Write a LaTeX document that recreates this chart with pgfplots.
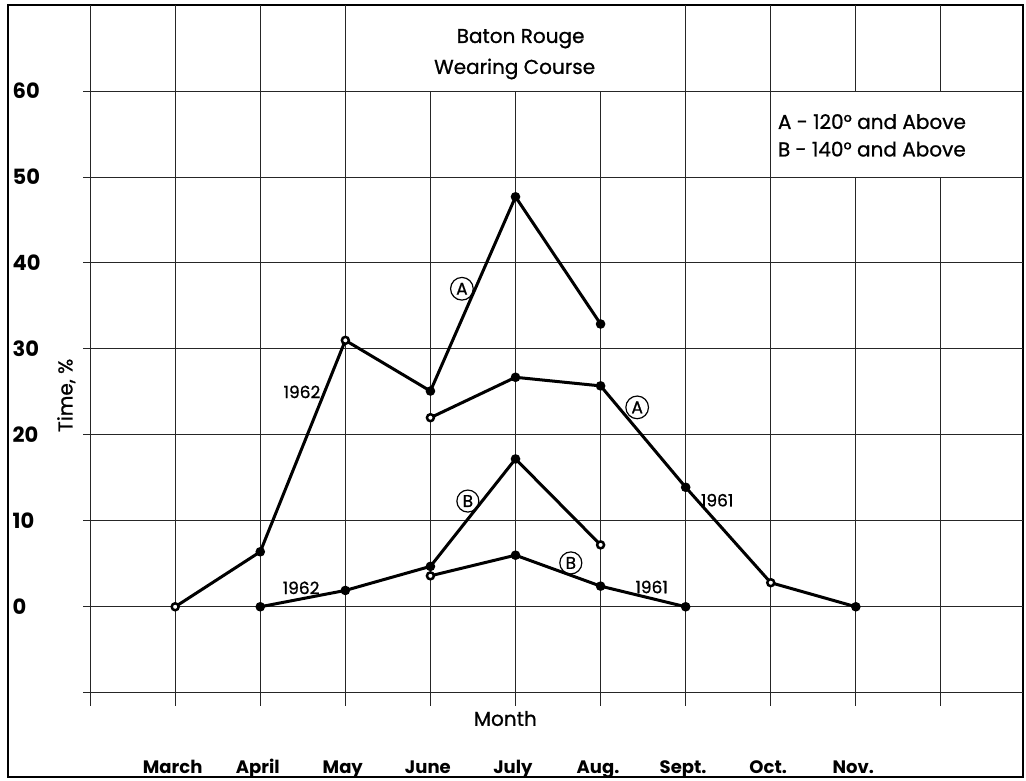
\documentclass[border=0pt]{standalone}
\usepackage{pgfplots}
\pgfplotsset{compat=1.18}
\usepackage{fontspec}
\setmainfont{Poppins}
\newfontfamily\med{Poppins}[FakeBold=0.9]

% month index: March=1 ... Nov=9
\pgfplotstableread{
x y
1 0
2 6.4
3 31.0
4 25.1
5 47.7
6 32.9
}\Aseventytwo
\pgfplotstableread{
x y
4 22.0
5 26.7
6 25.7
7 13.9
8 2.8
9 0
}\Asixtyone
\pgfplotstableread{
x y
2 0
3 1.9
4 4.7
5 17.2
6 7.2
}\Bsixtytwo
\pgfplotstableread{
x y
4 3.6
5 6.0
6 2.4
7 0
}\Bsixtyone
\pgfplotstableread{
x y
1 0
3 31.0
4 22.0
8 2.8
6 7.2
4 3.6
}\openpts

\tikzset{
  gridln/.style={line width=0.5pt, black!85},
  curve/.style={line width=1.5pt, black},
  circ/.style={draw, circle, line width=0.6pt, inner sep=1.1pt, font=\med\fontsize{8.5}{9}\selectfont},
  yr/.style={font=\med\fontsize{8.5}{9}\selectfont},
}

\begin{document}
\begin{tikzpicture}
\begin{axis}[
  width=507pt, height=385.5pt, scale only axis,
  xmin=-0.965, xmax=10.965, ymin=-19.8, ymax=70,
  xtick=\empty, ytick=\empty,
  axis line style={line width=1pt},
  clip=false,
]
% invisible frame for the page margin
\path (axis cs:-1.059,70.6) rectangle (axis cs:11.0,-20.27);

% grid
\pgfplotsinvokeforeach{0,1,2,3,7,8}{\draw[gridln] (axis cs:#1,-11.5) -- (axis cs:#1,70);}
\pgfplotsinvokeforeach{4,5,6}{\draw[gridln] (axis cs:#1,-11.5) -- (axis cs:#1,60);}
\pgfplotsinvokeforeach{9,10}{
  \draw[gridln] (axis cs:#1,-11.5) -- (axis cs:#1,50);
  \draw[gridln] (axis cs:#1,60) -- (axis cs:#1,70);
}
\pgfplotsinvokeforeach{-10,0,10,20,30,40,50,60}{\draw[gridln] (axis cs:-0.08,#1) -- (axis cs:10.965,#1);}

% y labels
\pgfplotsinvokeforeach{0,10,20,30,40,50,60}{
  \node[anchor=west, inner sep=0pt, font=\bfseries\fontsize{10.5}{11}\selectfont] at (axis cs:-0.915,#1) {#1};
}
\node[rotate=90, font=\med\fontsize{10}{11}\selectfont] at (axis cs:-0.28,24.6) {Time, \%};

% x labels
\node[font=\med\fontsize{10}{11}\selectfont] at (axis cs:4.88,-13.0) {Month};
\pgfplotsforeachungrouped \i/\m in {1/March,2/April,3/May,4/June,5/July,6/Aug.,7/Sept.,8/Oct.,9/Nov.}{
  \edef\tmp{\noexpand\node[anchor=base, inner sep=0pt, font=\noexpand\bfseries\noexpand\fontsize{9}{10}\noexpand\selectfont] at (axis cs:\i-0.03,-19.45) {\m};}
  \tmp
}

% title and legend
\node[anchor=base, inner sep=0pt, font=\med\fontsize{10}{11}\selectfont] at (axis cs:5.06,65.6) {Baton Rouge};
\node[anchor=base, inner sep=0pt, font=\med\fontsize{10}{11}\selectfont] at (axis cs:4.99,62.0) {Wearing Course};
\node[anchor=base west, inner sep=0pt, font=\med\fontsize{10}{11}\selectfont] at (axis cs:8.08,55.6) {A - 120° and Above};
\node[anchor=base west, inner sep=0pt, font=\med\fontsize{10}{11}\selectfont] at (axis cs:8.08,52.4) {B - 140° and Above};

% data
\addplot[curve, mark=*, mark size=1.6pt] table {\Aseventytwo};
\addplot[curve, mark=*, mark size=1.6pt] table {\Asixtyone};
\addplot[curve, mark=*, mark size=1.6pt] table {\Bsixtytwo};
\addplot[curve, mark=*, mark size=1.6pt] table {\Bsixtyone};
\addplot[only marks, mark=*, mark size=1.5pt, mark options={fill=white, draw=black, line width=0.8pt}] table {\openpts};

% curve labels
\node[yr] at (axis cs:2.49,25.0) {1962};
\node[circ] at (axis cs:4.37,37.0) {A};
\node[circ] at (axis cs:6.43,23.2) {A};
\node[yr] at (axis cs:7.37,12.4) {1961};
\node[circ] at (axis cs:4.44,12.3) {B};
\node[circ] at (axis cs:5.65,5.1) {B};
\node[yr] at (axis cs:2.48,2.2) {1962};
\node[yr] at (axis cs:6.6,2.3) {1961};
\end{axis}
\end{tikzpicture}
\end{document}
